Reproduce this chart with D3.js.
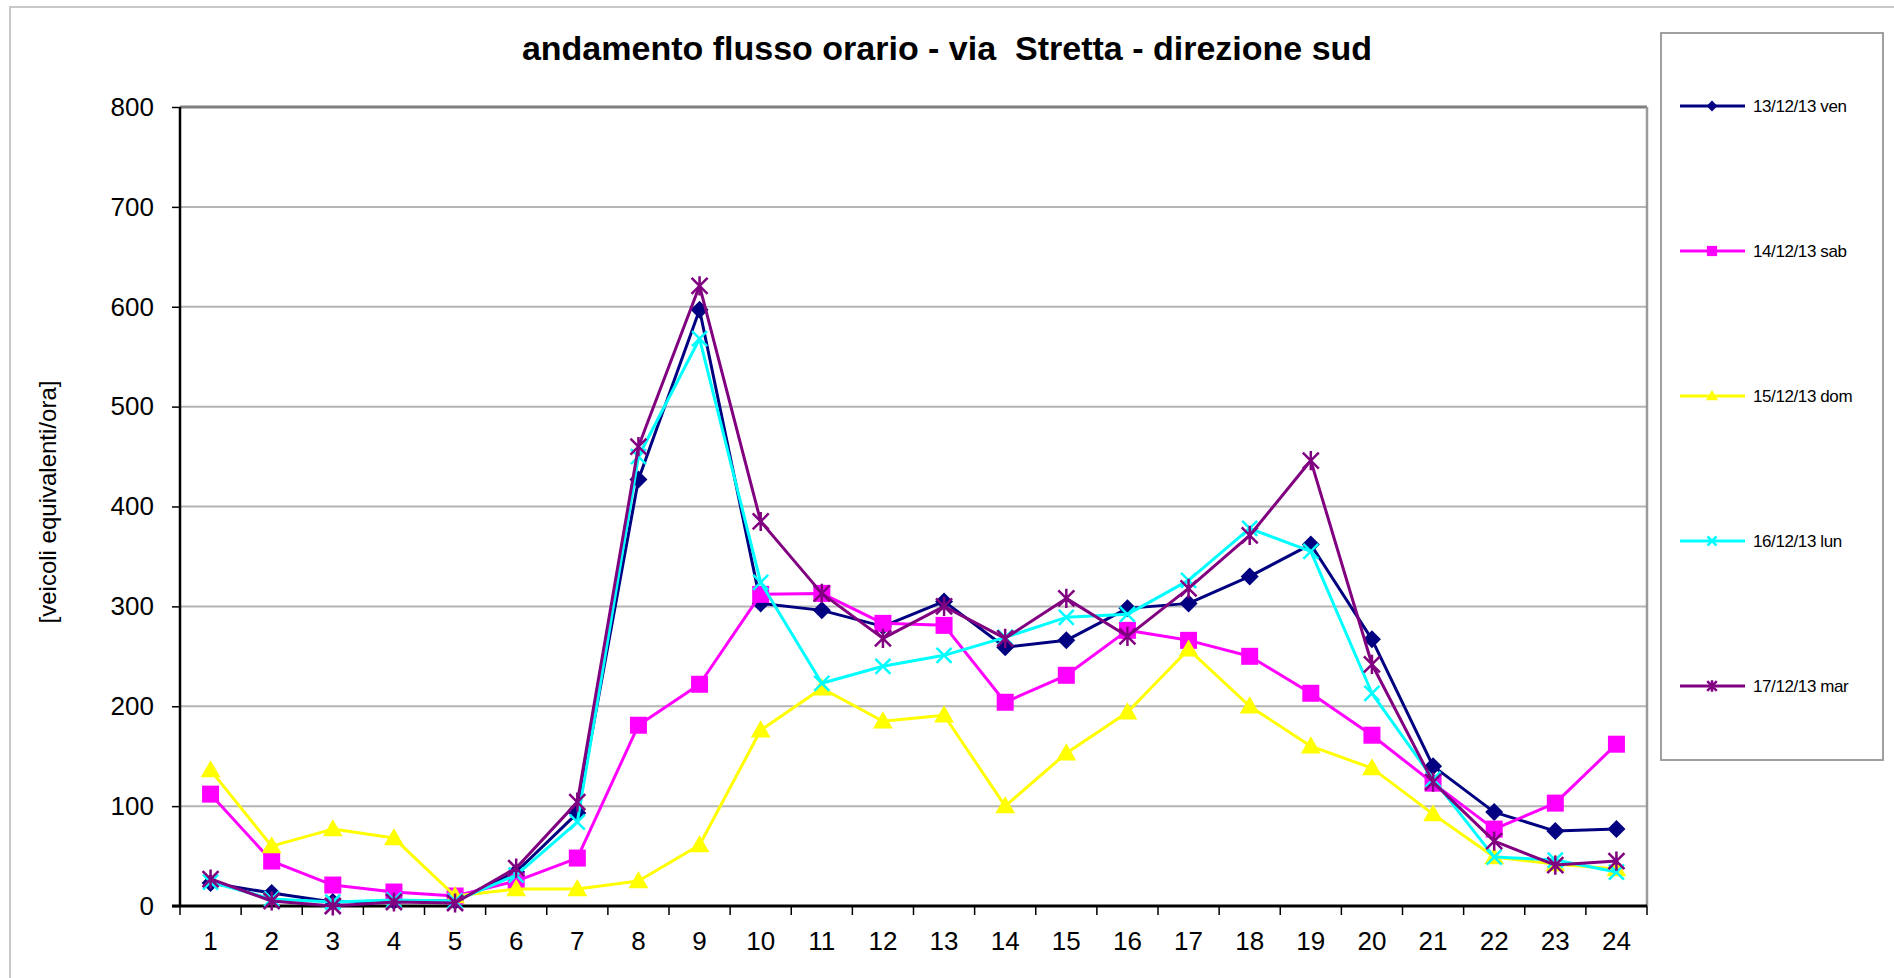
<!DOCTYPE html>
<html>
<head>
<meta charset="utf-8">
<script src="https://cdn.jsdelivr.net/npm/d3@7"></script>
<style>
  body { margin: 0; background: #fff; }
  text { font-family: "Liberation Sans", Arial, sans-serif; fill: #000; }
</style>
</head>
<body>
<div id="chart"></div>
<script>
// hours of the day
var hours = d3.range(1, 25);
var yTicks = [0, 100, 200, 300, 400, 500, 600, 700, 800];

// hourly flow per day (veicoli equivalenti/ora)
var ven = [23, 13, 4, 5, 5, 34, 93, 427, 597, 303, 296, 280, 305, 259, 266, 298, 303, 330, 362, 267, 140, 94, 75, 77];
var sab = [112, 45, 21, 14, 10, 25, 48, 181, 222, 312, 313, 283, 281, 204, 231, 276, 266, 250, 213, 171, 123, 77, 103, 162];
var dom = [136, 60, 77, 68, 10, 17, 17, 25, 61, 176, 218, 185, 191, 100, 153, 194, 257, 200, 160, 138, 92, 49, 42, 37];
var lun = [24, 7, 4, 6, 5, 31, 84, 450, 568, 324, 223, 240, 251, 269, 289, 292, 326, 378, 355, 213, 127, 49, 46, 34];
var mar = [27, 5, 0, 4, 3, 38, 104, 460, 621, 385, 313, 268, 300, 268, 308, 270, 318, 371, 446, 242, 124, 65, 41, 45];

var seriesNames = ["13/12/13 ven", "14/12/13 sab", "15/12/13 dom", "16/12/13 lun", "17/12/13 mar"];
var seriesColors = ["#000080", "#ff00ff", "#ffff00", "#00ffff", "#800080"];
var seriesMarkers = ["diamond", "square", "triangle", "cross", "star"];

var series = [ven, sab, dom, lun, mar].map(function(v, i) {
    return { name: seriesNames[i], color: seriesColors[i], marker: seriesMarkers[i], values: v };
});

var W = 1894, H = 978;
var plot = { left: 180, right: 1647, top: 107, bottom: 906 };

var svg = d3.select("#chart").append("svg")
    .attr("width", W)
    .attr("height", H);

// outer chart border (only top and left visible)
svg.append("rect")
    .attr("x", 10).attr("y", 7)
    .attr("width", W + 20).attr("height", H + 20)
    .attr("fill", "#fff")
    .attr("stroke", "#c8c8c8")
    .attr("stroke-width", 2);

var x = d3.scaleBand().domain(hours).range([plot.left, plot.right]).padding(0);
var xEdge = d3.scaleLinear().domain([0, 24]).range([plot.left, plot.right]);
var y = d3.scaleLinear().domain([0, 800]).range([plot.bottom, plot.top]);

// gridlines + y labels
var yAxis = svg.append("g")
    .attr("transform", "translate(" + plot.left + ",0)")
    .call(d3.axisLeft(y).tickValues(yTicks).tickSize(8).tickPadding(18));
yAxis.select(".domain").remove();
yAxis.selectAll(".tick line").attr("stroke", "#000").attr("stroke-width", 1.5);
yAxis.selectAll(".tick text").style("font-size", "26px").attr("fill", "#000");

svg.append("g").selectAll("line")
    .data(yTicks.filter(function(d) { return d > 0 && d < 800; }))
    .join("line")
    .attr("x1", plot.left).attr("x2", plot.right)
    .attr("y1", function(d) { return y(d); })
    .attr("y2", function(d) { return y(d); })
    .attr("stroke", "#b4b4b4")
    .attr("stroke-width", 2);

// plot frame: top and right in gray
svg.append("line")
    .attr("x1", plot.left).attr("x2", plot.right)
    .attr("y1", plot.top).attr("y2", plot.top)
    .attr("stroke", "#7f7f7f").attr("stroke-width", 3);
svg.append("line")
    .attr("x1", plot.right).attr("x2", plot.right)
    .attr("y1", plot.top).attr("y2", plot.bottom)
    .attr("stroke", "#9a9a9a").attr("stroke-width", 2.5);

// x axis labels
var xAxis = svg.append("g")
    .attr("transform", "translate(0," + plot.bottom + ")")
    .call(d3.axisBottom(x).tickSize(0).tickPadding(26));
xAxis.select(".domain").remove();
xAxis.selectAll(".tick text").style("font-size", "26px").attr("fill", "#000");

// x ticks between categories
svg.append("g").selectAll("line")
    .data(d3.range(0, 25))
    .join("line")
    .attr("x1", function(d) { return xEdge(d); })
    .attr("x2", function(d) { return xEdge(d); })
    .attr("y1", plot.bottom).attr("y2", plot.bottom + 9)
    .attr("stroke", "#000").attr("stroke-width", 1.5);

// axis lines
svg.append("line")
    .attr("x1", plot.left).attr("x2", plot.left)
    .attr("y1", plot.top).attr("y2", plot.bottom)
    .attr("stroke", "#000").attr("stroke-width", 2.5);
svg.append("line")
    .attr("x1", plot.left - 8).attr("x2", plot.right)
    .attr("y1", plot.bottom).attr("y2", plot.bottom)
    .attr("stroke", "#000").attr("stroke-width", 3);

// marker drawing
function drawMarker(g, type, color, s) {
    if (type === "diamond") {
        g.append("path").attr("d", "M0," + (-s) + "L" + s + ",0L0," + s + "L" + (-s) + ",0Z")
            .attr("fill", color);
    } else if (type === "square") {
        g.append("rect").attr("x", -s).attr("y", -s).attr("width", 2 * s).attr("height", 2 * s)
            .attr("fill", color);
    } else if (type === "triangle") {
        g.append("path").attr("d", "M0," + (-s * 1.1) + "L" + (s * 1.1) + "," + (s * 0.8) + "L" + (-s * 1.1) + "," + (s * 0.8) + "Z")
            .attr("fill", color);
    } else if (type === "cross") {
        g.append("path").attr("d", "M" + (-s) + "," + (-s) + "L" + s + "," + s + "M" + (-s) + "," + s + "L" + s + "," + (-s))
            .attr("stroke", color).attr("stroke-width", 2.5).attr("fill", "none");
    } else if (type === "star") {
        g.append("path").attr("d", "M" + (-s) + "," + (-s) + "L" + s + "," + s + "M" + (-s) + "," + s + "L" + s + "," + (-s) +
            "M0," + (-s * 1.2) + "L0," + (s * 1.2))
            .attr("stroke", color).attr("stroke-width", 2.5).attr("fill", "none");
    }
}

var markerSize = { diamond: 9, square: 8.5, triangle: 9, cross: 7.5, star: 8 };

var line = d3.line()
    .x(function(d, i) { return x(hours[i]) + x.bandwidth() / 2; })
    .y(function(d) { return y(d); });

series.forEach(function(s) {
    svg.append("path")
        .datum(s.values)
        .attr("d", line)
        .attr("fill", "none")
        .attr("stroke", s.color)
        .attr("stroke-width", 3)
        .attr("stroke-linejoin", "round");

    svg.append("g").selectAll("g")
        .data(s.values)
        .join("g")
        .attr("transform", function(d, i) {
            return "translate(" + (x(hours[i]) + x.bandwidth() / 2) + "," + y(d) + ")";
        })
        .each(function() { drawMarker(d3.select(this), s.marker, s.color, markerSize[s.marker]); });
});

// title
svg.append("text")
    .attr("x", 947).attr("y", 60)
    .attr("text-anchor", "middle")
    .style("font-size", "34px")
    .style("font-weight", "bold")
    .style("white-space", "pre")
    .text("andamento flusso orario - via  Stretta - direzione sud");

// y axis title
svg.append("text")
    .attr("transform", "translate(56,502) rotate(-90)")
    .attr("text-anchor", "middle")
    .style("font-size", "24px")
    .text("[veicoli equivalenti/ora]");

// legend
svg.append("rect")
    .attr("x", 1661).attr("y", 33)
    .attr("width", 222).attr("height", 727)
    .attr("fill", "#fff")
    .attr("stroke", "#a0a0a0")
    .attr("stroke-width", 2);

var legendY = [106, 251, 396, 541, 686];
var legend = svg.append("g").selectAll("g")
    .data(series)
    .join("g")
    .attr("transform", function(d, i) { return "translate(0," + legendY[i] + ")"; });

legend.append("line")
    .attr("x1", 1680).attr("x2", 1745)
    .attr("y1", 0).attr("y2", 0)
    .attr("stroke", function(d) { return d.color; })
    .attr("stroke-width", 3);
legend.append("g")
    .attr("transform", "translate(1712,0)")
    .each(function(d) { drawMarker(d3.select(this), d.marker, d.color, markerSize[d.marker] * 0.6); });
legend.append("text")
    .attr("x", 1753).attr("y", 6)
    .style("font-size", "17px")
    .style("letter-spacing", "-0.4px")
    .text(function(d) { return d.name; });
</script>
</body>
</html>
